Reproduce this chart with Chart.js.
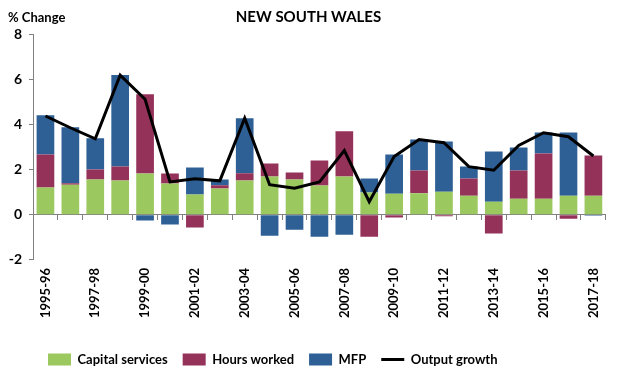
<!DOCTYPE html>
<html>
<head>
<meta charset="utf-8">
<script src="https://cdn.jsdelivr.net/npm/chart.js@4/dist/chart.umd.min.js"></script>
<style>
    html, body { margin: 0; padding: 0; background: #fff; }
    #wrap { width: 617px; height: 371px; }
</style>
</head>
<body>
<div id="wrap"><canvas id="chart"></canvas></div>
<script>
var years = ['1995-96', '1996-97', '1997-98', '1998-99', '1999-00', '2000-01', '2001-02', '2002-03',
    '2003-04', '2004-05', '2005-06', '2006-07', '2007-08', '2008-09', '2009-10', '2010-11',
    '2011-12', '2012-13', '2013-14', '2014-15', '2015-16', '2016-17', '2017-18'];
var capitalServices = [1.21, 1.33, 1.56, 1.51, 1.82, 1.38, 0.89, 1.16, 1.51, 1.69, 1.56, 1.29,
    1.69, 0.98, 0.93, 0.95, 1.02, 0.84, 0.58, 0.71, 0.71, 0.84, 0.84];
var hoursWorked = [1.46, 0.06, 0.44, 0.62, 3.51, 0.44, -0.56, 0.14, 0.33, 0.58, 0.31, 1.11,
    2.0, -0.98, -0.12, 1.01, -0.07, 0.76, -0.83, 1.25, 2.0, -0.18, 1.78];
var mfp = [1.73, 2.48, 1.38, 4.05, -0.25, -0.43, 1.2, 0.26, 2.43, -0.93, -0.67, -0.98,
    -0.89, 0.62, 1.74, 1.37, 2.22, 0.53, 2.22, 1.02, 0.93, 2.8, -0.05];
var outputGrowth = [4.37, 3.85, 3.36, 6.18, 5.11, 1.45, 1.59, 1.5, 4.27, 1.33, 1.17, 1.45,
    2.84, 0.58, 2.58, 3.33, 3.19, 2.13, 1.97, 3.07, 3.63, 3.45, 2.6];
var yTicks = [-2, 0, 2, 4, 6, 8];

var FONT = 'Lato, "Liberation Sans", sans-serif';
var axisGrey = '#808080';

// "% Change" label over the y axis
var unitLabel = {
    id: 'unitLabel',
    afterDraw: function (chart) {
        var c = chart.ctx;
        c.save();
        c.font = 'bold 13px ' + FONT;
        c.fillStyle = '#000';
        c.textAlign = 'left';
        c.textBaseline = 'middle';
        c.fillText('% Change', 8, 18);
        c.restore();
    }
};

function barSet(label, data, color) {
    return {
        type: 'bar',
        label: label,
        data: data,
        backgroundColor: color,
        borderWidth: 0,
        pointStyle: 'rect',
        stack: 'bars',
        barPercentage: 0.71,
        categoryPercentage: 1.0,
        order: 1
    };
}

new Chart(document.getElementById('chart'), {
    data: {
        labels: years,
        datasets: [
            barSet('Capital services', capitalServices, '#9BC85F'),
            barSet('Hours worked', hoursWorked, '#95325A'),
            barSet('MFP', mfp, '#2E6096'),
            {
                type: 'line',
                label: 'Output growth',
                data: outputGrowth,
                borderColor: '#000',
                backgroundColor: '#000',
                borderWidth: 3,
                pointRadius: 0,
                pointStyle: 'line',
                tension: 0,
                stack: 'line',
                order: 0
            }
        ]
    },
    options: {
        responsive: true,
        maintainAspectRatio: false,
        animation: false,
        layout: { padding: { left: 0, right: 0, top: 0, bottom: -5 } },
        plugins: {
            tooltip: { enabled: false },
            title: {
                display: true,
                text: 'NEW SOUTH WALES',
                color: '#000',
                font: { family: FONT, size: 15, weight: 'bold' },
                padding: { top: 8, bottom: 8 }
            },
            legend: {
                position: 'bottom',
                align: 'start',
                fullSize: false,
                labels: {
                    usePointStyle: true,
                    pointStyleWidth: 23,
                    boxHeight: 12,
                    padding: 15,
                    color: '#000',
                    font: { family: FONT, size: 13, weight: 'bold' },
                    sort: function (a, b) { return a.datasetIndex - b.datasetIndex; }
                }
            }
        },
        scales: {
            x: {
                stacked: true,
                offset: true,
                border: { display: false },
                grid: { display: false, drawTicks: false },
                afterFit: function (scale) { scale.height += 12; },
                ticks: {
                    autoSkip: false,
                    minRotation: 90,
                    maxRotation: 90,
                    padding: 8,
                    color: '#000',
                    font: { family: FONT, size: 13, weight: 'bold' },
                    callback: function (v, i) { return i % 2 === 0 ? years[i] : ''; }
                }
            },
            x2: {
                type: 'category',
                axis: 'x',
                position: { y: 0 },
                offset: true,
                border: { color: axisGrey, width: 1 },
                grid: { offset: true, drawOnChartArea: false, tickLength: 5, color: axisGrey },
                ticks: { display: false }
            },
            y: {
                stacked: true,
                min: -2,
                max: 8,
                afterFit: function (scale) { scale.width = 33; },
                afterBuildTicks: function (scale) {
                    scale.ticks = yTicks.map(function (v) { return { value: v }; });
                },
                border: { color: axisGrey, width: 1 },
                grid: { drawOnChartArea: false, tickLength: 4, color: axisGrey },
                ticks: {
                    padding: 7,
                    color: '#000',
                    font: { family: FONT, size: 14, weight: 'bold' }
                }
            }
        }
    },
    plugins: [unitLabel]
});
</script>
</body>
</html>
